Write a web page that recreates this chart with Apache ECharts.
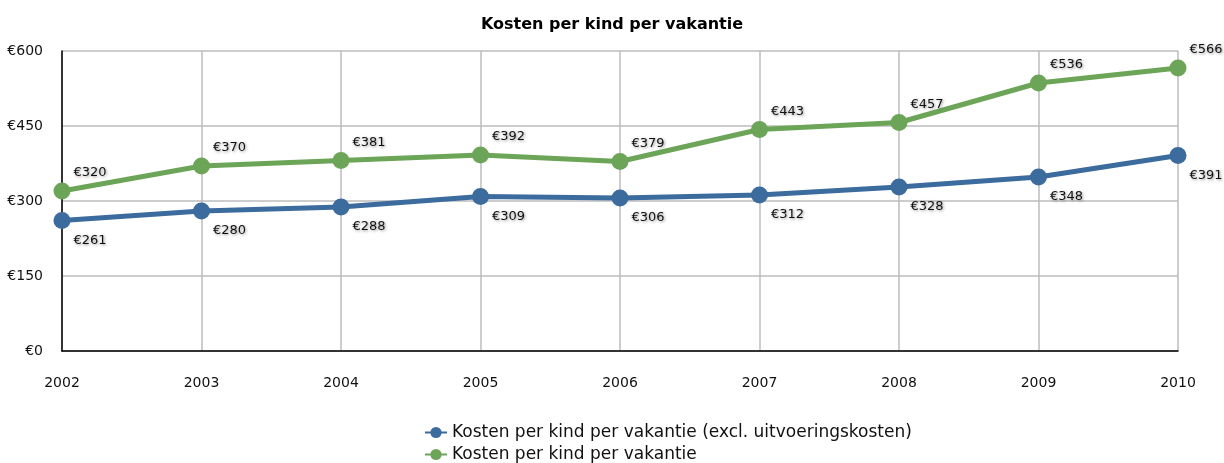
<!DOCTYPE html>
<html>
<head>
<meta charset="utf-8">
<script src="https://cdn.jsdelivr.net/npm/echarts@6/dist/echarts.min.js"></script>
<style>
  html, body { margin: 0; padding: 0; background: #fff; }
  #chart { width: 1224px; height: 463px; }
</style>
</head>
<body>
<div id="chart"></div>
<script>
var years = ['2002', '2003', '2004', '2005', '2006', '2007', '2008', '2009', '2010'];
var exclValues = [261, 280, 288, 309, 306, 312, 328, 348, 391];
var totalValues = [320, 370, 381, 392, 379, 443, 457, 536, 566];
var seriesNames = ['Kosten per kind per vakantie (excl. uitvoeringskosten)', 'Kosten per kind per vakantie'];

var font = '"DejaVu Sans", Verdana, sans-serif';

function labelStyle (dy) {
  return {
    show: true,
    position: 'right',
    offset: [-2, dy],
    formatter: function (p) { return '€' + p.value },
    fontFamily: font,
    fontSize: 13,
    color: '#111',
    textShadowColor: 'rgba(0,0,0,0.45)',
    textShadowBlur: 3,
    textShadowOffsetX: 1,
    textShadowOffsetY: 1
  }
}

var chart = echarts.init(document.getElementById('chart'))
chart.setOption({
  animation: false,
  title: {
    text: 'Kosten per kind per vakantie',
    left: 'center',
    top: 12,
    textStyle: { fontFamily: font, fontSize: 16, fontWeight: 'bold', color: '#000' }
  },
  legend: {
    orient: 'vertical',
    left: 424,
    top: 424,
    padding: 0,
    itemGap: 5,
    itemWidth: 22,
    itemHeight: 14,
    textStyle: { fontFamily: font, fontSize: 17, color: '#111' },
    data: seriesNames
  },
  grid: { left: 62, right: 46, top: 51, bottom: 112 },
  xAxis: {
    type: 'category',
    boundaryGap: false,
    data: years,
    axisLine: { lineStyle: { color: '#000', width: 1.5 } },
    axisTick: { show: false },
    axisLabel: { fontFamily: font, fontSize: 14, color: '#111', margin: 25 },
    splitLine: { show: true, lineStyle: { color: '#bdbdbd', width: 1.5 } }
  },
  yAxis: {
    type: 'value',
    min: 0,
    max: 600,
    interval: 150,
    axisLine: { show: true, lineStyle: { color: '#000', width: 1.5 } },
    axisTick: { show: false },
    axisLabel: { fontFamily: font, fontSize: 14, color: '#111', margin: 19, formatter: '€{value}' },
    splitLine: { lineStyle: { color: '#bdbdbd', width: 1.5 } }
  },
  series: [
    {
      name: seriesNames[0],
      type: 'line',
      data: exclValues,
      symbol: 'circle',
      symbolSize: 17,
      color: '#3c6b9e',
      lineStyle: { width: 5 },
      label: labelStyle(20),
      z: 3
    },
    {
      name: seriesNames[1],
      type: 'line',
      data: totalValues,
      symbol: 'circle',
      symbolSize: 17,
      color: '#6ca558',
      lineStyle: { width: 5 },
      label: labelStyle(-18),
      z: 2
    }
  ]
})
</script>
</body>
</html>
